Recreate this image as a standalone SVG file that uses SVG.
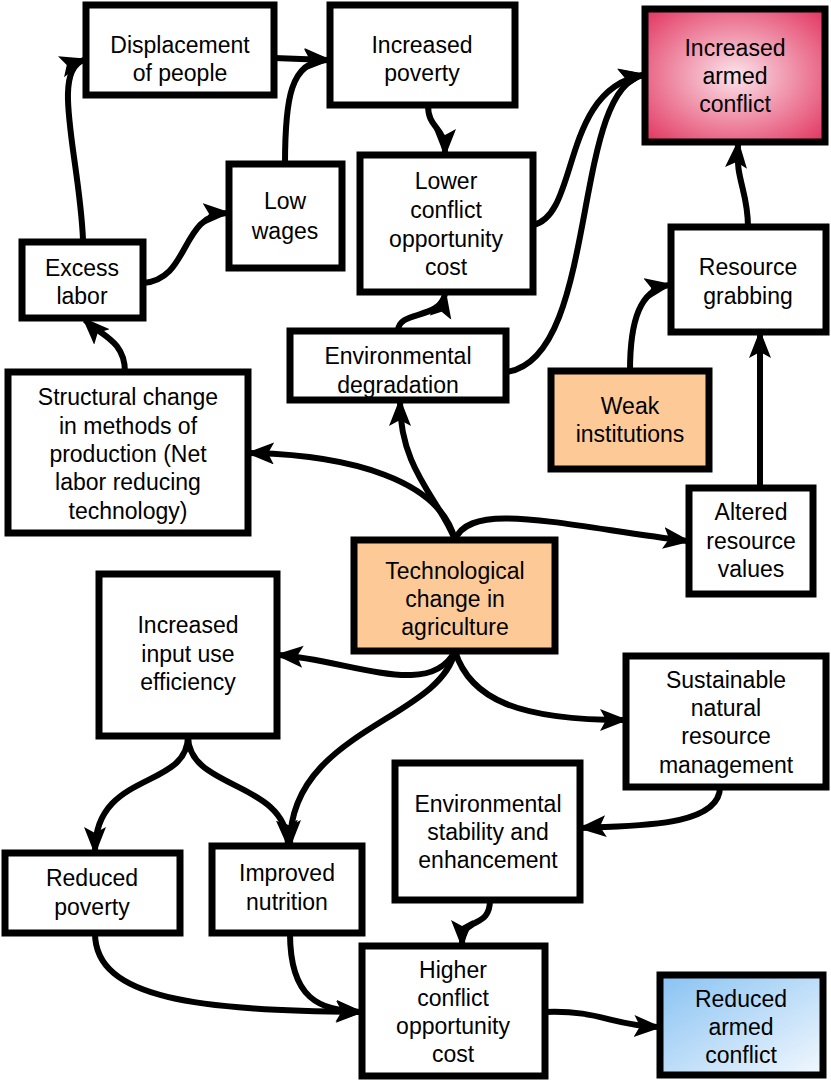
<svg xmlns="http://www.w3.org/2000/svg" width="831" height="1084" viewBox="0 0 831 1084">
<style>
.b rect{fill:#fff;stroke:#000;stroke-width:7}
.b text{font-family:"Liberation Sans",Arial,sans-serif;font-size:23px;text-anchor:middle;fill:#000}
#conn path{fill:none;stroke:#000;stroke-width:6;marker-end:url(#ah)}
</style>
<defs>
<marker id="ah" markerUnits="userSpaceOnUse" markerWidth="30" markerHeight="24" refX="24" refY="11" orient="auto"><path d="M0,0 L28,11 L0,22 L6,11 Z" fill="#000"/></marker>
<radialGradient id="pink" cx="0.5" cy="0.5" r="0.7"><stop offset="0" stop-color="#fbe3ea"/><stop offset="1" stop-color="#e2335e"/></radialGradient>
<linearGradient id="blue" x1="0" y1="0" x2="1" y2="1"><stop offset="0" stop-color="#88c2f2"/><stop offset="1" stop-color="#f2f8fe"/></linearGradient>
</defs>
<g id="conn">
<path d="M83,240 C80,160 50,70 84,60"/>
<path d="M143,283 C190,280 180,215 227,213"/>
<path d="M285,164 C285,100 290,60 328,60"/>
<path d="M274,58 L328,60"/>
<path d="M428,105 C428,130 445,125 445,153"/>
<path d="M533,225 C580,215 560,90 643,75"/>
<path d="M506,372 C600,360 570,90 643,75"/>
<path d="M398,331 C398,310 440,320 445,294"/>
<path d="M748,227 C748,190 735,180 738,144"/>
<path d="M630,371 C630,320 640,290 669,285"/>
<path d="M760,488 L760,334"/>
<path d="M455,540 C440,480 350,455 250,453"/>
<path d="M455,540 C440,500 400,470 400,402"/>
<path d="M455,540 C470,500 560,525 687,541"/>
<path d="M125,372 C125,340 100,335 85,320"/>
<path d="M455,651 C430,700 350,660 279,655"/>
<path d="M455,651 C440,720 290,730 290,844"/>
<path d="M455,651 C470,700 520,720 624,720"/>
<path d="M188,736 C188,790 95,770 95,851"/>
<path d="M188,736 C188,790 285,780 288,844"/>
<path d="M720,787 C720,830 620,825 582,828"/>
<path d="M490,900 C490,930 462,915 462,944"/>
<path d="M95,933 C95,1000 200,1010 360,1012"/>
<path d="M290,933 C290,1000 320,1010 360,1012"/>
<path d="M545,1012 C600,1010 610,1025 658,1027"/>
</g>
<g id="n1" class="b"><rect x="86" y="5" width="188" height="90"/><text x="180" y="53">Displacement</text><text x="180" y="81">of people</text></g>
<g id="n2" class="b"><rect x="330" y="5" width="185" height="100"/><text x="422" y="53">Increased</text><text x="422" y="81">poverty</text></g>
<g id="n3" class="b"><rect x="645" y="9" width="180" height="133" style="fill:url(#pink)"/><text x="735" y="56">Increased</text><text x="735" y="84">armed</text><text x="735" y="112">conflict</text></g>
<g id="n4" class="b"><rect x="229" y="164" width="113" height="104"/><text x="285" y="209">Low</text><text x="285" y="239">wages</text></g>
<g id="n5" class="b"><rect x="360" y="155" width="173" height="137"/><text x="446" y="189">Lower</text><text x="446" y="218">conflict</text><text x="446" y="247">opportunity</text><text x="446" y="275">cost</text></g>
<g id="n6" class="b"><rect x="22" y="242" width="121" height="76"/><text x="82" y="276">Excess</text><text x="82" y="304">labor</text></g>
<g id="n7" class="b"><rect x="671" y="227" width="155" height="105"/><text x="748" y="275">Resource</text><text x="748" y="304">grabbing</text></g>
<g id="n8" class="b"><rect x="290" y="331" width="216" height="69"/><text x="398" y="364">Environmental</text><text x="398" y="393">degradation</text></g>
<g id="n9" class="b"><rect x="551" y="371" width="158" height="98" style="fill:#fdca97"/><text x="630" y="414">Weak</text><text x="630" y="442">institutions</text></g>
<g id="n10" class="b"><rect x="8" y="372" width="240" height="161"/><text x="128" y="405">Structural change</text><text x="128" y="434">in methods of</text><text x="128" y="462">production (Net</text><text x="128" y="490">labor reducing</text><text x="128" y="519">technology)</text></g>
<g id="n11" class="b"><rect x="689" y="488" width="124" height="106"/><text x="751" y="520">Altered</text><text x="751" y="549">resource</text><text x="751" y="577">values</text></g>
<g id="n12" class="b"><rect x="354" y="540" width="201" height="111" style="fill:#fdca97"/><text x="455" y="579">Technological</text><text x="455" y="607">change in</text><text x="455" y="635">agriculture</text></g>
<g id="n13" class="b"><rect x="99" y="574" width="178" height="162"/><text x="188" y="633">Increased</text><text x="188" y="662">input use</text><text x="188" y="690">efficiency</text></g>
<g id="n14" class="b"><rect x="626" y="656" width="200" height="131"/><text x="726" y="688">Sustainable</text><text x="726" y="716">natural</text><text x="726" y="744">resource</text><text x="726" y="773">management</text></g>
<g id="n15" class="b"><rect x="395" y="763" width="185" height="137"/><text x="488" y="812">Environmental</text><text x="488" y="840">stability and</text><text x="488" y="868">enhancement</text></g>
<g id="n16" class="b"><rect x="5" y="853" width="175" height="80"/><text x="92" y="886">Reduced</text><text x="92" y="915">poverty</text></g>
<g id="n17" class="b"><rect x="212" y="846" width="150" height="87"/><text x="287" y="881">Improved</text><text x="287" y="910">nutrition</text></g>
<g id="n18" class="b"><rect x="362" y="946" width="183" height="130"/><text x="453" y="978">Higher</text><text x="453" y="1006">conflict</text><text x="453" y="1034">opportunity</text><text x="453" y="1062">cost</text></g>
<g id="n19" class="b"><rect x="660" y="975" width="163" height="100" style="fill:url(#blue)"/><text x="741" y="1007">Reduced</text><text x="741" y="1035">armed</text><text x="741" y="1063">conflict</text></g>
</svg>
